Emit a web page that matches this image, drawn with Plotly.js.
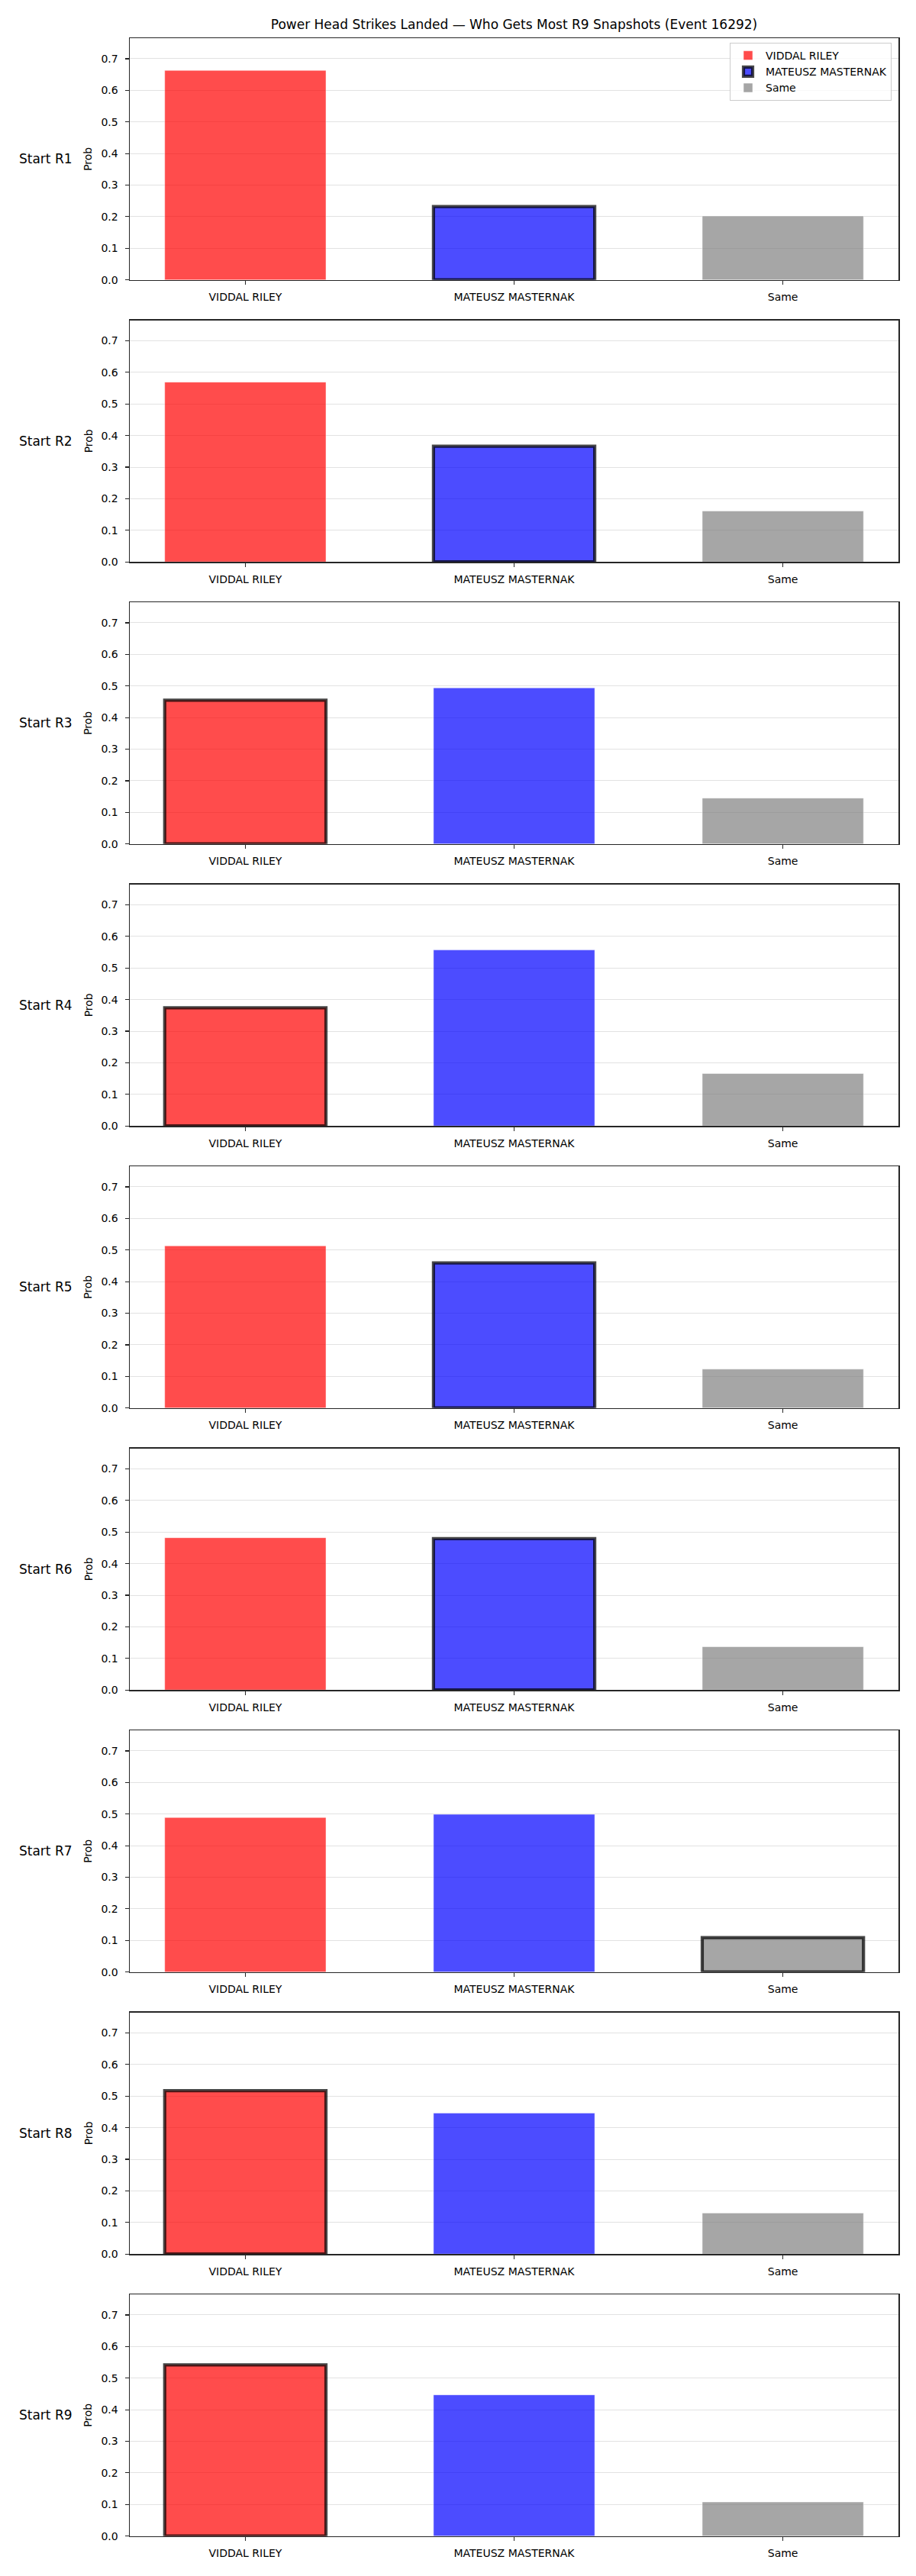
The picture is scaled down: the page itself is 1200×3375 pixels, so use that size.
<!DOCTYPE html>
<html>
<head>
<meta charset="utf-8">
<script src="https://cdn.plot.ly/plotly-3.0.1.min.js"></script>
<style>
  html, body { margin: 0; padding: 0; background: #ffffff; }
  #chart { width: 1200px; height: 3375px; }
</style>
</head>
<body>
<div id="chart"></div>
<script>
// ---- data ----
const chartTitle = 'Power Head Strikes Landed — Who Gets Most R9 Snapshots (Event 16292)';
const categories = ['VIDDAL RILEY', 'MATEUSZ MASTERNAK', 'Same'];
const rounds = ['Start R1', 'Start R2', 'Start R3', 'Start R4', 'Start R5', 'Start R6', 'Start R7', 'Start R8', 'Start R9'];
const viddalRiley = [0.663, 0.569, 0.455, 0.374, 0.513, 0.482, 0.489, 0.517, 0.542];
const mateuszMasternak = [0.232, 0.366, 0.494, 0.557, 0.459, 0.479, 0.499, 0.446, 0.447];
const sameProb = [0.202, 0.161, 0.145, 0.166, 0.123, 0.137, 0.109, 0.130, 0.108];
const highlighted = ['MATEUSZ MASTERNAK', 'MATEUSZ MASTERNAK', 'VIDDAL RILEY', 'VIDDAL RILEY',
                     'MATEUSZ MASTERNAK', 'MATEUSZ MASTERNAK', 'Same', 'VIDDAL RILEY', 'VIDDAL RILEY'];
const yTicks = [0, 0.1, 0.2, 0.3, 0.4, 0.5, 0.6, 0.7];

// ---- styling ----
const W = 1200, H = 3375;
const FONT = 'DejaVu Sans, sans-serif';
const colors = ['rgba(255,0,0,0.7)', 'rgba(0,0,255,0.7)', 'rgba(128,128,128,0.7)'];
const seriesValues = [viddalRiley, mateuszMasternak, sameProb];

const plotLeft = 170, plotRight = 1177;
const firstTop = 50, panelStep = 369.5, panelH = 316.7;

const traces = [];
const layout = {
  width: W, height: H,
  margin: {l: 0, r: 0, t: 0, b: 0},
  paper_bgcolor: '#ffffff',
  plot_bgcolor: '#ffffff',
  font: {family: FONT, size: 14, color: '#000000'},
  barmode: 'overlay',
  showlegend: true,
  title: {
    text: chartTitle,
    font: {family: FONT, size: 17, color: '#000000'},
    x: 673.5 / W, xanchor: 'center', xref: 'paper',
    y: 1 - 31.7 / H, yanchor: 'middle', yref: 'paper'
  },
  legend: {
    x: 1168 / W, xanchor: 'right',
    y: 1 - 56 / H, yanchor: 'top',
    bgcolor: 'rgba(255,255,255,0.8)',
    bordercolor: '#cccccc', borderwidth: 1,
    font: {family: FONT, size: 14, color: '#000000'},
    itemwidth: 36,
    tracegroupgap: 0
  },
  annotations: []
};

rounds.forEach((label, i) => {
  const k = i + 1;
  const xa = k === 1 ? 'x' : 'x' + k;
  const ya = k === 1 ? 'y' : 'y' + k;
  const top = firstTop + panelStep * i;
  const bottom = top + panelH;

  categories.forEach((cat, c) => {
    const isHi = highlighted[i] === cat;
    traces.push({
      type: 'bar',
      x: [cat],
      y: [seriesValues[c][i]],
      name: cat,
      legendgroup: cat,
      showlegend: i === 0,
      width: 0.6,
      xaxis: xa, yaxis: ya,
      marker: {
        color: colors[c],
        line: isHi ? {color: 'rgba(0,0,0,0.72)', width: 4.2} : {color: 'rgba(255,255,255,0.6)', width: 0.8}
      },
      hoverinfo: 'x+y'
    });
  });

  const xKey = k === 1 ? 'xaxis' : 'xaxis' + k;
  const yKey = k === 1 ? 'yaxis' : 'yaxis' + k;
  layout[xKey] = {
    domain: [plotLeft / W, plotRight / W],
    anchor: ya,
    type: 'category',
    categoryorder: 'array',
    categoryarray: categories,
    range: [-0.43, 2.43],
    showgrid: false,
    zeroline: false,
    showline: true, mirror: true,
    linecolor: '#262626', linewidth: 1.5,
    ticks: 'outside', ticklen: 5, tickwidth: 1.2, tickcolor: '#262626',
    ticklabelstandoff: 4,
    tickfont: {family: FONT, size: 14, color: '#000000'},
    fixedrange: true
  };
  layout[yKey] = {
    domain: [1 - bottom / H, 1 - top / H],
    anchor: xa,
    range: [0, 0.765],
    tickvals: yTicks,
    tickformat: '.1f',
    showgrid: true, gridcolor: '#e2e2e2', gridwidth: 1,
    zeroline: false,
    showline: true, mirror: true,
    linecolor: '#262626', linewidth: 1.5,
    ticks: 'outside', ticklen: 5, tickwidth: 1.2, tickcolor: '#262626',
    ticklabelstandoff: 6,
    tickfont: {family: FONT, size: 14, color: '#000000'},
    fixedrange: true
  };

  const midY = 1 - (top + bottom) / 2 / H;
  layout.annotations.push({
    text: label, xref: 'paper', yref: 'paper',
    x: 23 / W, xanchor: 'left', y: midY, yanchor: 'middle',
    showarrow: false,
    font: {family: FONT, size: 17, color: '#000000'}
  });
  layout.annotations.push({
    text: 'Prob', xref: 'paper', yref: 'paper',
    x: 115.5 / W, xanchor: 'center', y: midY, yanchor: 'middle',
    textangle: -90, showarrow: false,
    font: {family: FONT, size: 14, color: '#000000'}
  });
});

Plotly.newPlot('chart', traces, layout, {staticPlot: true, displayModeBar: false});
</script>
</body>
</html>
